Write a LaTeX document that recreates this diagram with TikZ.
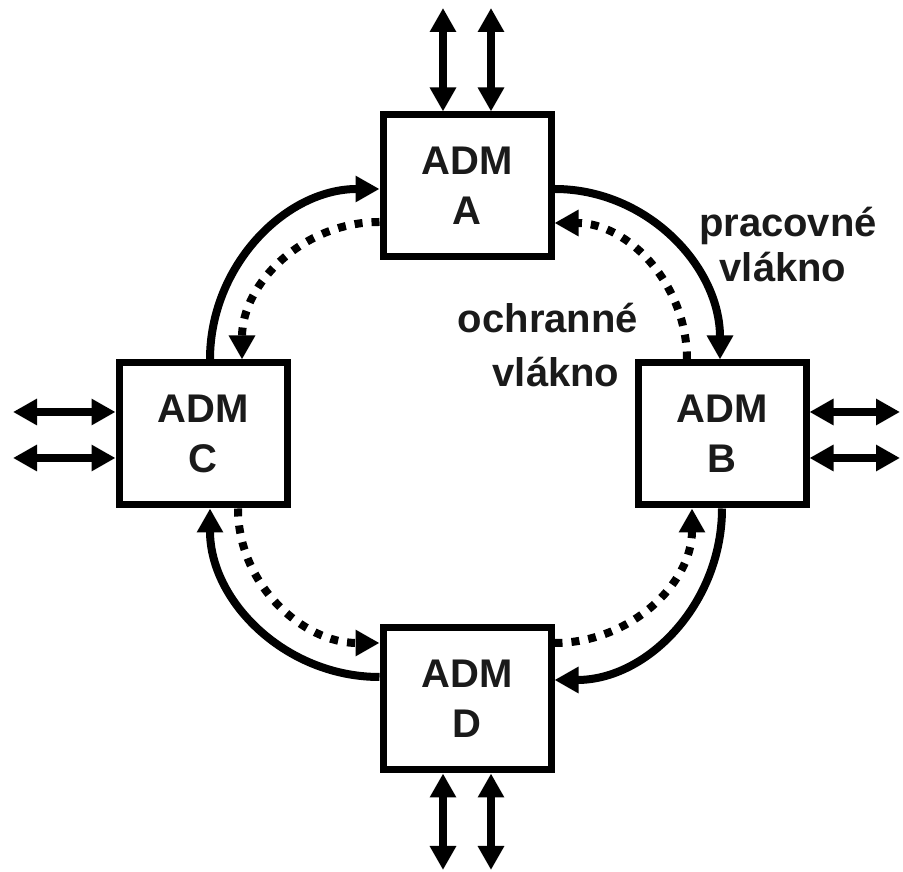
\documentclass[tikz,border=0pt]{standalone}
\usepackage{fontspec}
\setmainfont{Liberation Sans}
\usetikzlibrary{arrows.meta,calc}
\definecolor{txt}{RGB}{26,26,26}
\begin{document}
\begin{tikzpicture}[x=1pt,y=1pt,
  adm/.style={draw, line width=7pt, minimum width=168pt, minimum height=142pt, inner sep=0pt, align=center, font=\fontsize{40}{50}\selectfont\bfseries, text=txt},
  lbl/.style={anchor=base, inner sep=0pt, font=\fontsize{40}{50}\selectfont\bfseries, text=txt},
  >={Triangle[length=24pt,width=25pt]},
  work/.style={line width=8pt, ->},
  prot/.style={line width=8pt, dash pattern=on 8pt off 9pt, ->},
  io/.style={line width=8pt, <->}]
\useasboundingbox (0,0) rectangle (903,872);
% boxes
\node[adm] (A) at (467,686) {ADM\\A};
\node[adm] (B) at (722,438) {ADM\\B};
\node[adm] (C) at (203,438) {ADM\\C};
\node[adm] (D) at (467,173) {ADM\\D};
% labels
\node[lbl] (p1) at (788,635) {pracovné};
\node[lbl] (p2) at (783,590) {vlákno};
\node[lbl] (o1) at (548,539) {ochranné};
\node[lbl] (o2) at (556,485) {vlákno};
% ring connections
\draw[work] ($(C.north)+(7,0)$) to[out=90,in=180] ($(A.west)+(0,-3)$);
\draw[prot] ($(A.west)+(0,-36)$) to[out=180,in=90] ($(C.north)+(39,0)$);
\draw[work] ($(A.east)+(0,-3)$) to[out=0,in=90] ($(B.north)+(-2,0)$);
\draw[prot] ($(B.north)+(-35,0)$) to[out=90,in=0] ($(A.east)+(0,-37)$);
\draw[work] (B.south) to[out=-90,in=0] ($(D.east)+(0,19)$);
\draw[prot] ($(D.east)+(0,56)$) to[out=0,in=-90] ($(B.south)+(-30,0)$);
\draw[work] ($(D.west)+(0,22)$) to[out=180,in=-90] ($(C.south)+(7,0)$);
\draw[prot] ($(C.south)+(35,0)$) to[out=-90,in=180] ($(D.west)+(0,56)$);
% tributary ports
\coordinate (at1) at (443,864);
\coordinate (at2) at (491,864);
\coordinate (db1) at (443,2);
\coordinate (db2) at (491,2);
\coordinate (cl1) at (13,460);
\coordinate (cl2) at (13,414);
\coordinate (br1) at (900,460);
\coordinate (br2) at (900,414);
\draw[io] (at1) -- (at1 |- A.north);
\draw[io] (at2) -- (at2 |- A.north);
\draw[io] (db1) -- (db1 |- D.south);
\draw[io] (db2) -- (db2 |- D.south);
\draw[io] (cl1) -- (cl1 -| C.west);
\draw[io] (cl2) -- (cl2 -| C.west);
\draw[io] (br1) -- (br1 -| B.east);
\draw[io] (br2) -- (br2 -| B.east);
\end{tikzpicture}
\end{document}
